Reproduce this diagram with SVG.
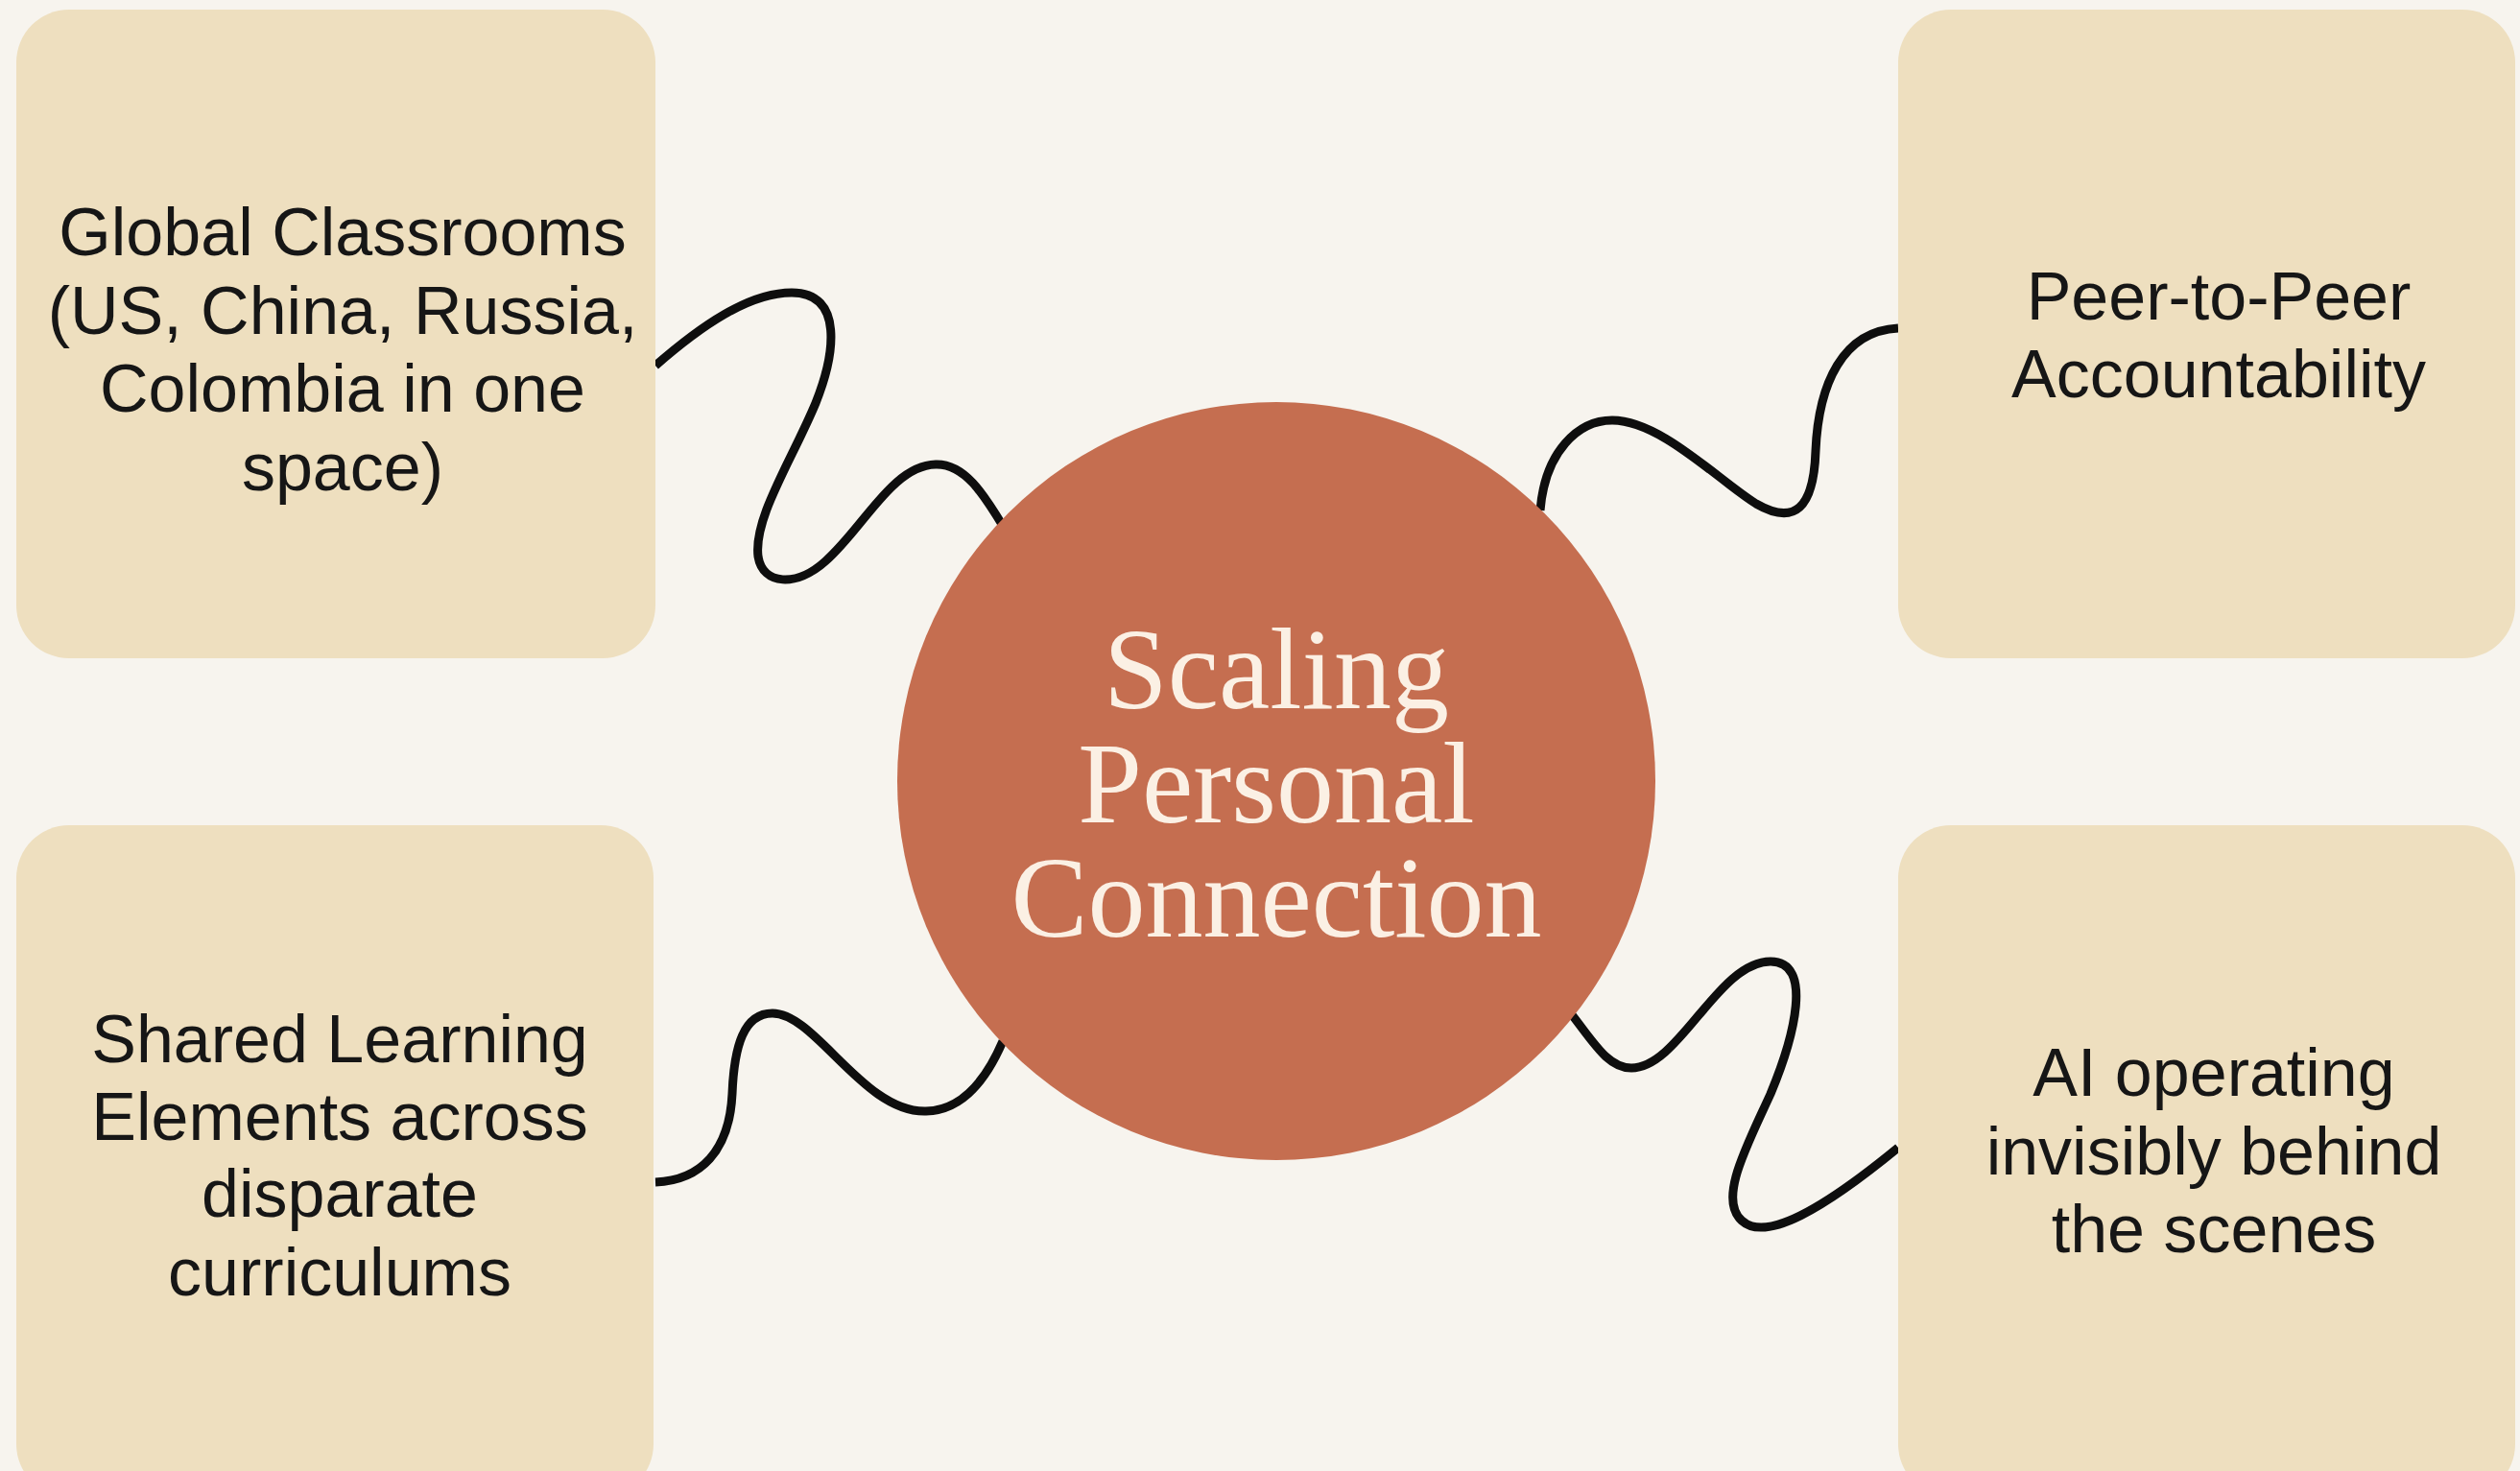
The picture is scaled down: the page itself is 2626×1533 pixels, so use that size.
<svg xmlns="http://www.w3.org/2000/svg" width="2626" height="1533" viewBox="0 0 2626 1533">
<style>
.box{fill:#EEDFBF}
.lbl{font-family:"Liberation Sans",Arial,sans-serif;font-size:70px;fill:#161616;text-anchor:middle}
.wire{fill:none;stroke:#0E0E0E;stroke-width:9;stroke-linecap:butt;stroke-linejoin:round}
.hub{fill:#C56E50}
.hubt{font-family:"Liberation Serif","Times New Roman",serif;font-size:120px;fill:#FBF0E4;text-anchor:middle}
</style>
<rect width="2626" height="1533" fill="#F7F4EE"/>
<g id="connectors">
<path class="wire" d="M 683 381 C 730 340, 780 305, 825 305 C 880 305, 870 370, 850 420 C 825 480, 785 540, 790 580 C 795 610, 830 612, 860 585 C 900 550, 930 485, 975 484 C 1005 483, 1025 515, 1045 548"/>
<path class="wire" d="M 1605 532 C 1610 470, 1645 438, 1680 438 C 1730 438, 1790 500, 1830 525 C 1870 548, 1890 530, 1892 470 C 1895 400, 1920 345, 1978 342"/>
<path class="wire" d="M 683 1232 C 730 1230, 760 1200, 763 1140 C 765 1090, 775 1056, 805 1056 C 850 1056, 900 1160, 965 1158 C 1005 1157, 1030 1120, 1045 1085"/>
<path class="wire" d="M 1636 1055 C 1660 1085, 1675 1113, 1700 1113 C 1750 1113, 1790 1002, 1845 1002 C 1890 1002, 1870 1080, 1845 1140 C 1820 1195, 1790 1250, 1815 1272 C 1840 1295, 1900 1260, 1978 1196"/>
</g>
<g id="node-global">
<rect class="box" x="17" y="10" width="666" height="676" rx="55"/>
<text class="lbl"><tspan x="357" y="266">Global Classrooms</tspan><tspan x="357" y="348">(US, China, Russia,</tspan><tspan x="357" y="429">Colombia in one</tspan><tspan x="357" y="511">space)</tspan></text>
</g>
<g id="node-peer">
<rect class="box" x="1978" y="10" width="643" height="676" rx="55"/>
<text class="lbl"><tspan x="2312" y="333">Peer-to-Peer</tspan><tspan x="2312" y="414">Accountability</tspan></text>
</g>
<g id="node-shared">
<rect class="box" x="17" y="860" width="664" height="700" rx="55"/>
<text class="lbl"><tspan x="354" y="1107">Shared Learning</tspan><tspan x="354" y="1188">Elements across</tspan><tspan x="354" y="1268">disparate</tspan><tspan x="354" y="1350">curriculums</tspan></text>
</g>
<g id="node-ai">
<rect class="box" x="1978" y="860" width="643" height="700" rx="55"/>
<text class="lbl"><tspan x="2307" y="1142">AI operating</tspan><tspan x="2307" y="1224">invisibly behind</tspan><tspan x="2307" y="1305">the scenes</tspan></text>
</g>
<g id="node-hub">
<circle class="hub" cx="1330" cy="814" r="395"/>
<text class="hubt"><tspan x="1330" y="738">Scaling</tspan><tspan x="1330" y="857">Personal</tspan><tspan x="1330" y="976">Connection</tspan></text>
</g>
</svg>
